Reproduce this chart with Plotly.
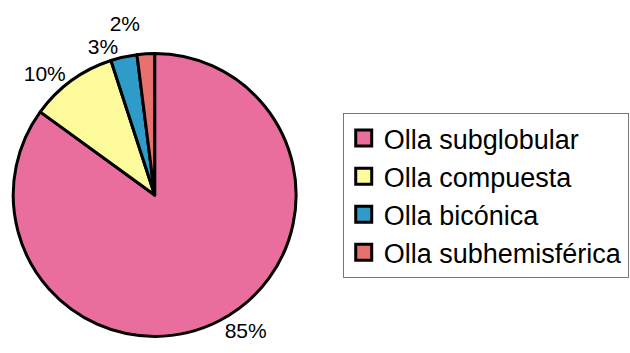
import plotly.graph_objects as go

# Vessel shape categories and their counts (percent of total)
categories = ["Olla subglobular", "Olla compuesta", "Olla bicónica", "Olla subhemisférica"]
values = [85, 10, 3, 2]
colors = ["#E96E9D", "#FCFA9B", "#2E9BC8", "#E8706E"]

fig = go.Figure(
    go.Pie(
        labels=categories,
        values=values,
        sort=False,
        direction="clockwise",
        rotation=0,
        marker=dict(colors=colors, line=dict(color="black", width=3)),
        textinfo="percent",
        textposition="outside",
        texttemplate="%{percent:.0%}",
        textfont=dict(family="Liberation Sans, Arial, sans-serif", size=21, color="black"),
        hoverinfo="label+percent",
        domain=dict(x=[0.021, 0.47], y=[0.02, 0.98]),
        showlegend=True,
    )
)

fig.update_layout(
    width=630,
    height=353,
    margin=dict(l=0, r=0, t=0, b=0),
    paper_bgcolor="white",
    plot_bgcolor="white",
    font=dict(family="Liberation Sans, Arial, sans-serif", color="black"),
    legend=dict(
        x=0.544,
        y=0.768,
        xanchor="left",
        yanchor="top",
        bordercolor="#777777",
        borderwidth=1,
        font=dict(size=27, color="black"),
        bgcolor="white",
    ),
)

# percentage labels sit freely outside the pie, without leader lines;
# legend swatches are drawn a little larger than plotly's default square
post = """
document.querySelectorAll('path.textline').forEach(function(p){p.remove();});
document.querySelectorAll('.legend .legendpoints path').forEach(function(p){
    p.setAttribute('d', 'M8,8H-8V-8H8Z');
});
"""

fig.write_html("out.html", post_script=post)
